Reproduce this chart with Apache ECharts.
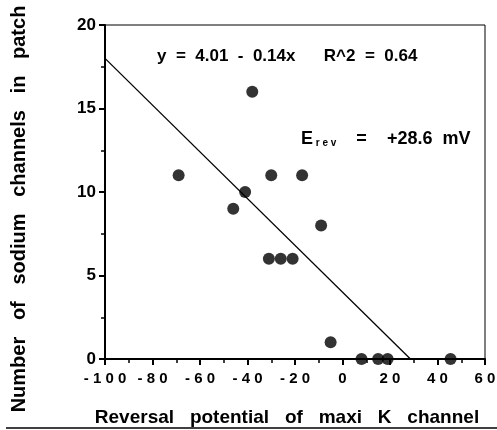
<!DOCTYPE html>
<html>
<head>
<meta charset="utf-8">
<script src="https://cdn.jsdelivr.net/npm/echarts@6/dist/echarts.min.js"></script>
<style>html,body{margin:0;padding:0;background:#fff;}#c{width:497px;height:430px;}</style>
</head>
<body>
<div id="c"></div>
<script>
// Reversal potential of maxi K channel (mV)
var xValues = [-69, -46, -41, -38, -30, -17, -31, -26, -21, -9, -5, 8, 15, 19, 45.5];
// Number of sodium channels in patch
var yValues = [11, 9, 10, 16, 11, 11, 6, 6, 6, 8, 1, 0, 0, 0, 0];
// regression line endpoints (y = 4.01 - 0.14x, Erev = +28.6 mV)
var fitX = [-100, 28.6];
var fitY = [18.0, 0];
var xTicks = [-100, -80, -60, -40, -20, 0, 20, 40, 60];
var yTicks = [0, 5, 10, 15, 20];
var xTitle = 'Reversal   potential   of   maxi   K   channel';
var yTitle = 'Number   of   sodium   channels   in   patch';

var pts = xValues.map(function (x, i) { return [x, yValues[i]]; });
var fit = fitX.map(function (x, i) { return [x, fitY[i]]; });
var font = '"Liberation Sans", Arial, sans-serif';

var chart = echarts.init(document.getElementById('c'));
chart.setOption({
  animation: false,
  backgroundColor: '#fff',
  grid: { left: 105, top: 25, right: 12, bottom: 71, outerBoundsMode: 'none', containLabel: false,
    show: true, borderColor: '#000', borderWidth: 1, backgroundColor: 'transparent' },
  xAxis: {
    type: 'value', min: xTicks[0], max: xTicks[xTicks.length - 1], interval: 20,
    axisLine: { show: true, onZero: false, lineStyle: { color: '#000', width: 2 } },
    axisTick: { show: true, inside: false, length: 6, lineStyle: { color: '#000', width: 2 } },
    minorTick: { show: true, splitNumber: 2, length: 4, lineStyle: { color: '#000', width: 1.5 } },
    splitLine: { show: false },
    axisLabel: { color: '#000', fontFamily: font, fontWeight: 'bold', fontSize: 15, margin: 12,
      formatter: function (v) { return String(v).split('').join(' '); } }
  },
  yAxis: {
    type: 'value', min: yTicks[0], max: yTicks[yTicks.length - 1], interval: 5,
    axisLine: { show: true, onZero: false, lineStyle: { color: '#000', width: 2 } },
    axisTick: { show: true, inside: false, length: 6, lineStyle: { color: '#000', width: 2 } },
    minorTick: { show: true, splitNumber: 2, length: 4, lineStyle: { color: '#000', width: 1.5 } },
    splitLine: { show: false },
    axisLabel: { color: '#000', fontFamily: font, fontWeight: 'bold', fontSize: 17, margin: 9 }
  },
  series: [
    { type: 'line', data: fit, symbol: 'none', lineStyle: { color: '#000', width: 1.3 }, z: 1 },
    { type: 'scatter', data: pts, symbol: 'circle', symbolSize: 12, itemStyle: { color: '#000' }, z: 3 }
  ],
  graphic: [
    { type: 'text', x: 287, y: 418, style: { text: xTitle, fill: '#000', font: 'bold 19px ' + font, align: 'center', verticalAlign: 'middle' } },
    { type: 'text', x: 19, y: 209, rotation: Math.PI / 2, style: { text: yTitle, fill: '#000', font: 'bold 20px ' + font, align: 'center', verticalAlign: 'middle' } },
    { type: 'text', left: 157, top: 48, style: { text: 'y  =  4.01  -  0.14x      R^2  =  0.64', fill: '#000', font: 'bold 17px ' + font } },
    { type: 'text', left: 301, top: 130, style: {
        text: '{e|E}{s| r e v}{n|    =    +28.6  mV}', fill: '#000',
        rich: {
          e: { fontFamily: font, fontWeight: 'bold', fontSize: 18, fill: '#000' },
          s: { fontFamily: font, fontWeight: 'bold', fontSize: 10, fill: '#000', verticalAlign: 'bottom', padding: [9, 0, 0, 0] },
          n: { fontFamily: font, fontWeight: 'bold', fontSize: 18, fill: '#000' }
        } } },
    { type: 'line', shape: { x1: 6, y1: 428, x2: 497, y2: 428 }, style: { stroke: '#000', lineWidth: 1.5 } }
  ]
});
</script>
</body>
</html>
